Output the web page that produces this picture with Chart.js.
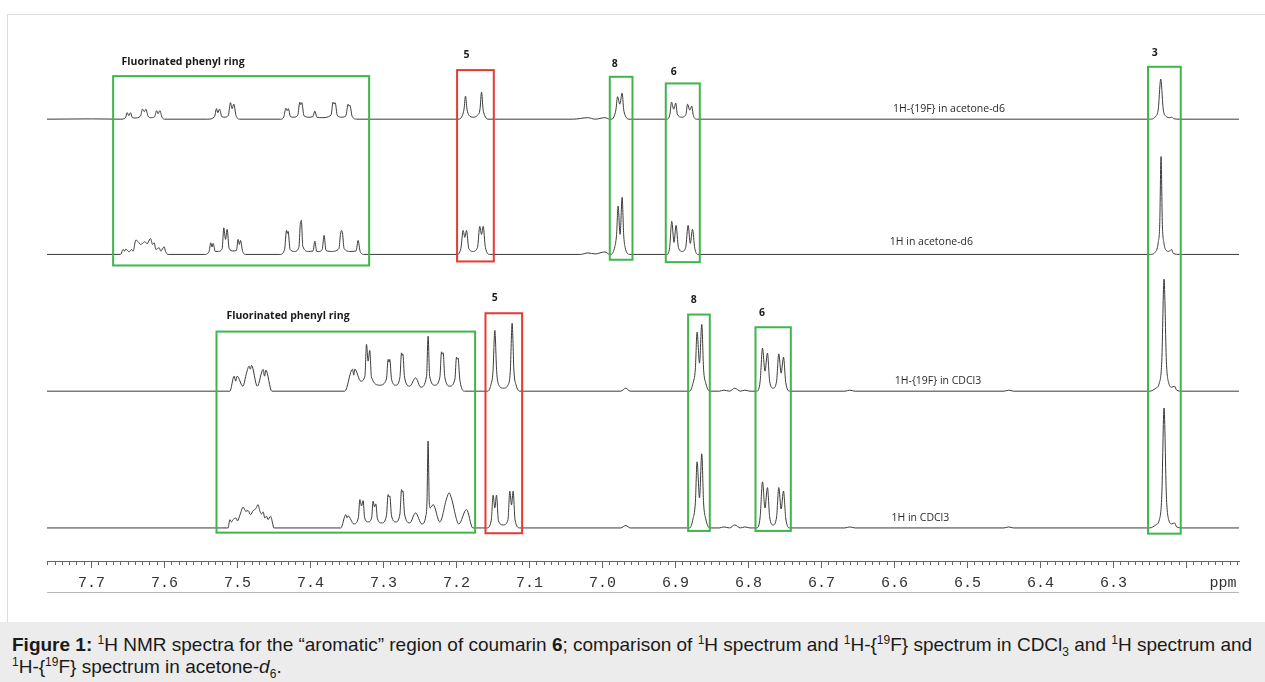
<!DOCTYPE html>
<html><head><meta charset="utf-8">
<script src="https://cdn.jsdelivr.net/npm/chart.js@4.4.1/dist/chart.umd.min.js"></script>
<style>
html,body{margin:0;padding:0;background:#fff;}
#wrap{position:relative;width:1265px;height:682px;overflow:hidden;background:#fff;}
#frame{position:absolute;left:7px;top:14px;width:1300px;height:640px;border-left:1px solid #dcdcdc;border-top:1px solid #dcdcdc;}
#chart{position:absolute;left:0;top:0;}
#cap{position:absolute;left:0;top:622px;width:1265px;height:60px;background:#ececec;box-sizing:border-box;padding:12px 0 0 12px;font-family:'Liberation Sans',Arial,sans-serif;font-size:19px;line-height:22px;color:#1a1a1a;white-space:nowrap;}
#cap sup,#cap sub{font-size:12px;line-height:0;}
</style></head>
<body>
<div id="wrap">
<div id="frame"></div>
<canvas id="chart" width="1265" height="622"></canvas>
<div id="cap"><b>Figure 1:</b> <sup>1</sup>H NMR spectra for the “aromatic” region of coumarin <b>6</b>; comparison of <sup>1</sup>H spectrum and <sup>1</sup>H-{<sup>19</sup>F} spectrum in CDCl<sub>3</sub> and <sup>1</sup>H spectrum and<br><sup>1</sup>H-{<sup>19</sup>F} spectrum in acetone-<i>d</i><sub>6</sub>.</div>
</div>
<script>
// ---- spectra: [chemical shift (ppm), intensity] ----
const acetoneDecoupled = [
[7.761,0],[7.700,0.3],[7.6598,0],
[7.6535,1.5],[7.6512,6.5],[7.6489,3.5],[7.6466,6.5],[7.6440,1.5],[7.6407,1.2],
[7.6330,3],[7.6301,10],[7.6277,7.5],[7.6256,10],[7.6225,3],[7.6188,1.5],
[7.6135,2.5],[7.6109,8.5],[7.6088,5.5],[7.6064,8.5],[7.6035,2],[7.5996,0],
[7.5407,0],[7.5315,2.5],[7.5288,10.5],[7.5270,6.5],[7.5246,10],[7.5215,2.5],[7.5174,2],
[7.5125,4],[7.5096,16.5],[7.5074,10.5],[7.5051,15],[7.5020,3.5],[7.4968,0],
[7.4407,0],[7.4365,2.5],[7.4338,11],[7.4322,8.5],[7.4304,10.5],[7.4275,2.5],[7.4229,2],
[7.4175,4],[7.4146,17],[7.4133,14.5],[7.4119,16.5],[7.4090,3.5],[7.4023,2],
[7.3968,2.5],[7.3941,8],[7.3912,2],[7.3845,1.5],
[7.3720,4],[7.3690,17],[7.3677,15],[7.3663,16.5],[7.3632,3.5],[7.3571,2],
[7.3515,3.5],[7.3485,15],[7.3472,13],[7.3461,14],[7.3430,3],[7.3366,0],
[7.1968,0],[7.1918,4],[7.1897,10],[7.1877,23],[7.1856,10],[7.1830,4],[7.1770,2],[7.1712,4],[7.1678,10],[7.1657,27],[7.1636,10],[7.1615,4],[7.1571,0],
[7.040,0],[7.0201,1.5],[7.010,0],[6.9968,1.5],[6.9900,0],
[6.9872,0],[6.9835,4],[6.9815,10],[6.9794,22.5],[6.9763,15],[6.9731,26],[6.9710,10],[6.9690,4],[6.9640,0],
[6.9119,0],[6.9076,5],[6.9055,17],[6.9024,10],[6.8996,16],[6.8975,5],[6.8914,2],[6.8856,5],[6.8835,15],[6.8805,9],[6.8777,13],[6.8756,4],[6.8708,0],
[6.2503,0],[6.2420,3],[6.2386,10],[6.2352,40],[6.2318,10],[6.2283,3],[6.2229,1.5],[6.2201,2],[6.2174,0.5],[6.2092,0],[6.128,0]
];
const acetoneH = [
[7.761,0],[7.6603,0],[7.6567,5],[7.6548,3.3],[7.6530,5.3],[7.6485,2.7],[7.6452,5],[7.6430,3.3],[7.6393,14.3],[7.6361,12.7],[7.6329,10],[7.6301,11],[7.6270,12.7],[7.6238,10.7],[7.6192,16],[7.6164,10],[7.6142,11.7],[7.6119,5],[7.6074,6.7],[7.6051,3.3],[7.6005,7.7],[7.5986,3],[7.5951,0],
[7.5448,0],[7.5390,3],[7.5366,11.6],[7.5349,7.5],[7.5334,11],[7.5305,3],[7.5263,3],[7.5210,6],[7.5188,26.6],[7.5164,15],[7.5142,25],[7.5115,6],[7.5064,3.5],[7.5015,4],[7.4992,15],[7.4975,10],[7.4959,14],[7.4930,3],[7.4886,0],
[7.4420,0],[7.4355,5],[7.4329,24],[7.4318,21],[7.4307,23],[7.4280,5],[7.4222,3],[7.4160,7],[7.4140,30],[7.4133,33],[7.4126,34],[7.4105,8],[7.4030,3],[7.3965,3.5],[7.3941,13.3],[7.3915,3],[7.3886,3],[7.3840,5],[7.3814,19],[7.3788,4],[7.3708,3],[7.3610,6],[7.3590,20],[7.3575,24],[7.3560,20],[7.3540,6],[7.3461,3],[7.3375,3.5],[7.3348,14],[7.3320,3],[7.3270,0],
[7.1996,0],[7.1940,6],[7.1909,24],[7.1886,17],[7.1863,24],[7.1832,6],[7.1777,3],[7.1712,7],[7.1681,28],[7.1657,20],[7.1635,28],[7.1604,7],[7.1544,0],
[7.030,0],[7.0201,1.5],[7.010,0.5],[6.9968,2.5],[6.9900,0],
[6.9886,0],[6.9830,8],[6.9807,20],[6.9786,48.3],[6.9759,20],[6.9731,57],[6.9710,20],[6.9690,7],[6.9626,0],
[6.9119,0],[6.9080,7],[6.9051,33],[6.9020,12],[6.8992,29],[6.8960,7],[6.8909,3],[6.8860,7],[6.8827,29],[6.8797,11],[6.8767,25],[6.8735,6],[6.8694,0],
[6.2503,0],[6.2420,3],[6.2386,12],[6.2366,30],[6.2348,97.7],[6.2330,30],[6.2310,12],[6.2276,4],[6.2240,3],[6.2205,5],[6.2180,1],[6.2092,0],[6.128,0]
];
const cdclDecoupled = [
[7.761,0],[7.5105,0],[7.5046,15],[7.5026,10],[7.5005,15],[7.4927,5],[7.4877,18],[7.4841,25],[7.4824,22],[7.4808,25.7],[7.4729,5],[7.4649,21.7],[7.4630,15],[7.4612,21],[7.4530,0],
[7.3530,0],[7.3424,22],[7.3408,16],[7.3393,22],[7.3311,10],[7.3255,15],[7.3233,46.7],[7.3211,30],[7.3188,40.7],[7.3165,14],[7.3051,6],[7.2960,12],[7.2937,31.7],[7.2924,29],[7.2914,31.7],[7.2890,12],[7.2831,6],[7.2775,14],[7.2753,38.3],[7.2745,36],[7.2735,37],[7.2712,14],[7.2640,5],[7.2561,13.3],[7.2489,4],[7.2410,15],[7.2389,55],[7.2368,15],[7.2297,6],[7.2228,14],[7.2205,39.3],[7.2194,37],[7.2183,38.3],[7.2160,14],[7.2092,5],[7.2022,12],[7.2000,34],[7.1989,32],[7.1978,33],[7.1955,12],[7.1886,0],
[7.1571,0],[7.1530,6],[7.1500,20],[7.1475,60.7],[7.1450,20],[7.1420,6],[7.1356,3],[7.1295,6],[7.1263,20],[7.1238,67.7],[7.1213,20],[7.1183,6],[7.1133,0],
[6.975,0],[6.9681,3],[6.962,0],
[6.8804,0],[6.8760,8],[6.8728,22],[6.8704,59],[6.8671,28],[6.8640,66.7],[6.8615,22],[6.8585,8],[6.8530,0],
[6.840,0],[6.8338,1],[6.826,0],[6.8188,3],[6.811,0],[6.8051,1],[6.798,0],
[6.7886,0],[6.7840,10],[6.7808,43],[6.7774,20],[6.7740,38],[6.7710,10],[6.7663,3],[6.7615,10],[6.7585,37.3],[6.7553,18],[6.7520,34],[6.7490,9],[6.7434,0],
[6.668,0],[6.6612,1],[6.654,0],[6.450,0],[6.4434,1],[6.437,0],
[6.2503,0],[6.2420,3],[6.2372,8],[6.2338,30],[6.2307,111.7],[6.2275,30],[6.2242,8],[6.2201,4],[6.2164,5],[6.2133,1],[6.2064,0],[6.128,0]
];
const cdclH = [
[7.761,0],[7.5129,0],[7.5105,8.3],[7.5082,6],[7.5060,8.3],[7.5023,10],[7.5000,7],[7.4968,12.7],[7.4923,20.7],[7.4886,16.7],[7.4855,17.3],[7.4822,13.3],[7.4786,17.3],[7.4749,19.3],[7.4718,23.3],[7.4694,16.7],[7.4671,14],[7.4649,16],[7.4626,10],[7.4603,11.7],[7.4581,8.3],[7.4548,11.7],[7.4520,5],[7.4503,0],
[7.3585,0],[7.3516,13.3],[7.3500,10],[7.3485,12],[7.3407,4],[7.3345,10],[7.3324,28.3],[7.3301,22],[7.3279,27.3],[7.3258,10],[7.3208,6],[7.3163,10],[7.3142,26.7],[7.3123,21],[7.3105,24],[7.3083,9],[7.3023,5],[7.2960,12],[7.2937,33.3],[7.2924,31],[7.2914,32],[7.2890,12],[7.2831,6],[7.2775,14],[7.2753,38.3],[7.2744,36],[7.2735,37],[7.2712,14],[7.2640,5],[7.2561,15],[7.2475,4],[7.2420,12],[7.2405,25],[7.2389,86.7],[7.2373,25],[7.2359,20],[7.2320,23.3],[7.2229,6],[7.2133,30],[7.2101,35],[7.2071,30],[7.1968,4],[7.1863,18.3],[7.1777,0],
[7.1585,0],[7.1525,7],[7.1498,32.7],[7.1475,20],[7.1452,32.7],[7.1425,7],[7.1361,3],[7.1295,8],[7.1270,36.7],[7.1246,23],[7.1224,36.7],[7.1198,8],[7.1133,0],
[6.975,0],[6.9681,2.5],[6.962,0],
[6.8804,0],[6.8760,9],[6.8728,25],[6.8704,66],[6.8671,30],[6.8640,74],[6.8615,25],[6.8585,9],[6.8530,0],
[6.840,0],[6.8338,1],[6.826,0],[6.8188,3],[6.811,0],[6.8051,1],[6.798,0],
[6.7886,0],[6.7840,11],[6.7808,46],[6.7774,20],[6.7740,40.3],[6.7710,11],[6.7663,3],[6.7615,11],[6.7585,40.3],[6.7553,19],[6.7520,36.7],[6.7490,10],[6.7434,0],
[6.668,0],[6.6612,1],[6.654,0],[6.450,0],[6.4434,1],[6.437,0],
[6.2503,0],[6.2420,3],[6.2372,8],[6.2338,32],[6.2307,119.7],[6.2275,32],[6.2242,8],[6.2201,4],[6.2164,5],[6.2133,1],[6.2064,0],[6.128,0]
];
const traceNames = ['1H-{19F} in acetone-d6','1H in acetone-d6','1H-{19F} in CDCl3','1H in CDCl3'];
const assignLabels = ['Fluorinated phenyl ring','5','8','6','3'];

// ---- layout / style (not data) ----
const spectra = [acetoneDecoupled, acetoneH, cdclDecoupled, cdclH];
const baselineOffsets = [441, 306, 169.5, 33];
const traceLabelPos = [[6.6019,451],[6.6064,318],[6.5996,180],[6.6041,43.3]];
const GREEN = '#3fb64c', RED = '#e63a35';
const boxes = [
  {x1:7.6704,x2:7.3197,y1:484,y2:295,c:GREEN,label:0,lx:7.6589,ly:497.7,left:true},
  {x1:7.1992,x2:7.1489,y1:490,y2:299,c:RED,label:1,lx:7.1863,ly:505},
  {x1:6.9900,x2:6.9589,y1:483.3,y2:300.7,c:GREEN,label:2,lx:6.9831,ly:496},
  {x1:6.9133,x2:6.8667,y1:476.7,y2:298.3,c:GREEN,label:3,lx:6.9023,ly:488.3},
  {x1:6.2526,x2:6.2078,y1:493.3,y2:27.3,c:GREEN,label:4,lx:6.2434,ly:507.3},
  {x1:7.5288,x2:7.1745,y1:229,y2:28.3,c:GREEN,label:0,lx:7.5151,ly:245,left:true},
  {x1:7.1603,x2:7.1101,y1:247.3,y2:27.7,c:RED,label:1,lx:7.1475,ly:262},
  {x1:6.8827,x2:6.8530,y1:246,y2:30,c:GREEN,label:2,lx:6.8749,ly:261},
  {x1:6.7904,x2:6.7420,y1:233.3,y2:30,c:GREEN,label:3,lx:6.7814,ly:247.7}
];

const annot = {
  id:'annot',
  afterDatasetsDraw(chart){
    const {ctx, scales:{x, y}} = chart;
    ctx.save();
    boxes.forEach(b=>{
      const px1 = x.getPixelForValue(b.x1), px2 = x.getPixelForValue(b.x2);
      const py1 = y.getPixelForValue(b.y1), py2 = y.getPixelForValue(b.y2);
      ctx.strokeStyle = b.c; ctx.lineWidth = 2;
      ctx.strokeRect(px1, py1, px2-px1, py2-py1);
      ctx.fillStyle = '#1a1a1a';
      ctx.font = 'bold 10.5px "Open Sans", sans-serif';
      ctx.textBaseline = 'middle';
      ctx.textAlign = b.left ? 'left' : 'center';
      ctx.fillText(assignLabels[b.label], x.getPixelForValue(b.lx), y.getPixelForValue(b.ly));
    });
    ctx.font = '10.5px "Open Sans", sans-serif';
    ctx.fillStyle = '#2a2a2a';
    ctx.textAlign = 'left';
    ctx.textBaseline = 'middle';
    traceNames.forEach((t,i)=>{
      ctx.fillText(t, x.getPixelForValue(traceLabelPos[i][0]), y.getPixelForValue(traceLabelPos[i][1]));
    });
    // rule under the axis labels
    const ry = Math.round(x.top) + 31.5;
    ctx.strokeStyle = '#b8b8b8'; ctx.lineWidth = 1;
    ctx.beginPath(); ctx.moveTo(x.left, ry); ctx.lineTo(x.right, ry); ctx.stroke();
    ctx.restore();
  }
};

const isMajor = v => Math.abs(v*10 - Math.round(v*10)) < 1e-6;

new Chart(document.getElementById('chart'), {
  type:'line',
  data:{datasets: spectra.map((s,i)=>({
    label: traceNames[i],
    data: s.map(p=>({x:p[0], y:p[1]+baselineOffsets[i]})),
    borderColor:'#3a3a3a', borderWidth:1, pointRadius:0, fill:false,
    cubicInterpolationMode:'monotone'
  }))},
  options:{
    responsive:false, animation:false, devicePixelRatio:1,
    layout:{padding:{left:47, right:26, top:20, bottom:24}},
    plugins:{legend:{display:false}, tooltip:{enabled:false}},
    scales:{
      x:{type:'linear', reverse:true, min:6.128, max:7.761, position:'bottom',
        border:{display:true, color:'#666', width:1},
        grid:{drawOnChartArea:false, drawTicks:true, tickLength:7, tickColor:'#666', tickWidth:1,
          tickBorderDash: ctx => (ctx.tick && isMajor(ctx.tick.value)) ? [] : [3,20]},
        ticks:{stepSize:0.01, autoSkip:false, maxRotation:0, includeBounds:false, padding:6,
          font:{family:'"Liberation Mono", monospace', size:15}, color:'#333',
          callback:(v)=>{
            if (isMajor(v)) { const r = Math.round(v*10)/10; return r === 6.2 ? '' : r.toFixed(1); }
            if (Math.abs(v-6.15) < 1e-6) return 'ppm';
            return '';
          }}
      },
      y:{display:false, min:0, max:540}
    }
  },
  plugins:[annot]
});
</script>
</body></html>
